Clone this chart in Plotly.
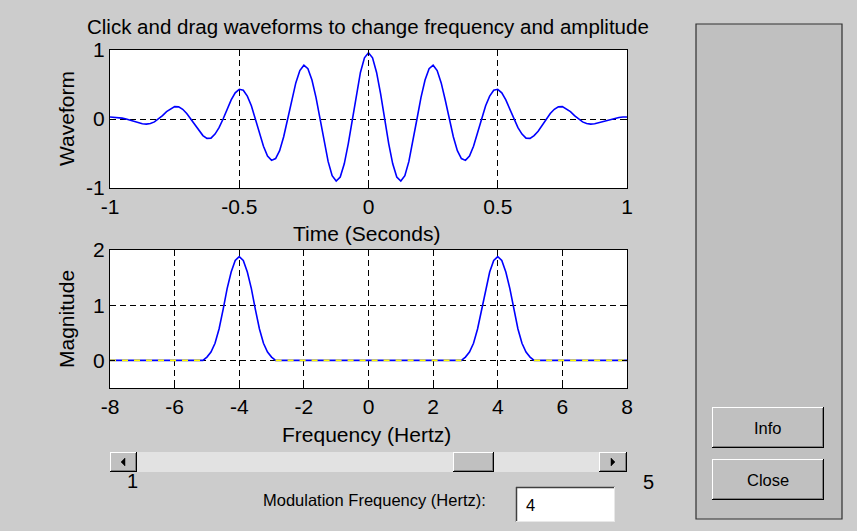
import numpy as np
import plotly.graph_objects as go

# ---------------- data ----------------
time_s = list(np.linspace(-1.0, 1.0, 129))
waveform = [
    0.03, 0.028, 0.021, 0.013, 0, -0.017, -0.035, -0.055,
    -0.07, -0.074, -0.064, -0.042, 0, 0.050, 0.106, 0.148,
    0.18, 0.176, 0.141, 0.080, 0, -0.088, -0.177, -0.240,
    -0.28, -0.277, -0.219, -0.126, 0, 0.142, 0.276, 0.379,
    0.43, 0.416, 0.332, 0.192, 0, -0.207, -0.396, -0.536,
    -0.60, -0.573, -0.460, -0.257, 0, 0.276, 0.523, 0.702,
    0.78, 0.730, 0.566, 0.314, 0, -0.329, -0.615, -0.822,
    -0.90, -0.841, -0.650, -0.356, 0, 0.364, 0.675, 0.887,
    0.96,
    0.887, 0.675, 0.364, 0, -0.356, -0.650, -0.841, -0.90,
    -0.822, -0.615, -0.329, 0, 0.314, 0.566, 0.730, 0.78,
    0.702, 0.523, 0.276, 0, -0.257, -0.460, -0.573, -0.60,
    -0.536, -0.396, -0.207, 0, 0.192, 0.332, 0.416, 0.43,
    0.379, 0.276, 0.142, 0, -0.126, -0.219, -0.277, -0.28,
    -0.240, -0.177, -0.088, 0, 0.080, 0.141, 0.176, 0.18,
    0.148, 0.106, 0.050, 0, -0.042, -0.064, -0.074, -0.07,
    -0.055, -0.035, -0.017, 0, 0.013, 0.021, 0.028, 0.03,
]
freq_hz = [
    -8.0, -5.125, -5.0, -4.875, -4.75, -4.625, -4.5, -4.375, -4.25, -4.125,
    -4.0, -3.875, -3.75, -3.625, -3.5, -3.375, -3.25, -3.125, -3.0, -2.875,
    2.875, 3.0, 3.125, 3.25, 3.375, 3.5, 3.625, 3.75, 3.875,
    4.0, 4.125, 4.25, 4.375, 4.5, 4.625, 4.75, 4.875, 5.0, 5.125, 8.0,
]
magnitude = [
    0, 0, 0.06, 0.15, 0.31, 0.57, 0.92, 1.30, 1.60, 1.81,
    1.88, 1.81, 1.60, 1.30, 0.92, 0.57, 0.31, 0.15, 0.06, 0,
    0, 0.06, 0.15, 0.31, 0.57, 0.92, 1.30, 1.60, 1.81,
    1.88, 1.81, 1.60, 1.30, 0.92, 0.57, 0.31, 0.15, 0.06, 0, 0,
]
time_ticks = [-1, -0.5, 0, 0.5, 1]
time_ticklabels = ["-1", "-0.5", "0", "0.5", "1"]
wave_ticks = [-1, 0, 1]
wave_ticklabels = ["-1", "0", "1"]
freq_ticks = [-8, -6, -4, -2, 0, 2, 4, 6, 8]
freq_ticklabels = ["-8", "-6", "-4", "-2", "0", "2", "4", "6", "8"]
mag_ticks = [0, 1, 2]
mod_freq_value = "4"
slider_min_label = "1"
slider_max_label = "5"

# ---------------- layout helpers ----------------
W, H = 857, 531
BG = "#cccccc"
FACE = "#c0c0c0"
FONT = "Liberation Sans, Arial, sans-serif"


def X(px):
    return px / W


def Y(py):
    return 1 - py / H


shapes = []


def rect(x0, y0, x1, y1, fill, line=None, lw=0):
    shapes.append(dict(type="rect", xref="paper", yref="paper",
                       x0=X(x0), x1=X(x1), y0=Y(y1), y1=Y(y0),
                       fillcolor=fill, line=dict(color=line or fill, width=lw),
                       layer="below"))


def seg(x0, y0, x1, y1, color, lw=1):
    shapes.append(dict(type="line", xref="paper", yref="paper",
                       x0=X(x0), x1=X(x1), y0=Y(y0), y1=Y(y1),
                       line=dict(color=color, width=lw), layer="above"))


def button(x0, y0, x1, y1):
    rect(x0, y0, x1, y1, FACE)
    seg(x0, y0 + 0.5, x1, y0 + 0.5, "#ffffff")
    seg(x0 + 0.5, y0, x0 + 0.5, y1, "#ffffff")
    seg(x0, y1 - 0.5, x1, y1 - 0.5, "#000000")
    seg(x1 - 0.5, y0, x1 - 0.5, y1, "#000000")
    seg(x0 + 1, y1 - 1.5, x1 - 1, y1 - 1.5, "#808080")
    seg(x1 - 1.5, y0 + 1, x1 - 1.5, y1 - 1, "#808080")


def tri(points):
    path = "M " + " L ".join(f"{X(a)},{Y(b)}" for a, b in points) + " Z"
    shapes.append(dict(type="path", xref="paper", yref="paper", path=path,
                       fillcolor="#000000", line=dict(color="#000000", width=0.5),
                       layer="above"))


# right panel
rect(696, 24, 842, 519, FACE, "#303030", 1.2)
button(712, 407, 824, 448)
button(712, 459, 824, 500)

# slider
rect(110, 452, 627, 472, "#e2e2e2")
button(110, 452, 137, 472)
button(599, 452, 627, 472)
button(453, 452, 494, 472)
tri([(121, 462), (125, 458), (125, 466)])
tri([(615, 462), (611, 458), (611, 466)])

# edit box
rect(516, 487, 615, 522, "#ffffff")
seg(516, 487.5, 615, 487.5, "#404040", 1.5)
seg(516.5, 487, 516.5, 522, "#404040", 1.5)
seg(516, 521.5, 615, 521.5, "#e8e8e8", 1)
seg(614.5, 487, 614.5, 522, "#e8e8e8", 1)

# ---------------- figure ----------------
fig = go.Figure()

zero_mag = [m if m == 0 else None for m in magnitude]

fig.add_trace(go.Scatter(x=time_s, y=waveform, mode="lines",
                         line=dict(color="#0000ff", width=1.6),
                         xaxis="x", yaxis="y", hoverinfo="skip"))
fig.add_trace(go.Scatter(x=freq_hz, y=magnitude, mode="lines",
                         line=dict(color="#0000ff", width=1.6),
                         xaxis="x2", yaxis="y2", hoverinfo="skip"))
fig.add_trace(go.Scatter(x=freq_hz, y=zero_mag, mode="lines",
                         line=dict(color="#ffff00", width=1.8, dash="6px,6px"),
                         connectgaps=False,
                         xaxis="x2", yaxis="y2", hoverinfo="skip"))

axis_common = dict(
    showgrid=True, gridcolor="#000000", gridwidth=1.4, griddash="6px,4px",
    zeroline=False, showline=True, linecolor="#000000", linewidth=1.4,
    mirror="allticks", ticks="inside", ticklen=5, tickcolor="#000000",
    tickfont=dict(family=FONT, size=21, color="#000000"),
    fixedrange=True, automargin=False,
)

xd = [X(110), X(627)]
fig.update_layout(
    width=W, height=H, autosize=False,
    margin=dict(l=0, r=0, t=0, b=0, pad=0),
    paper_bgcolor=BG, plot_bgcolor="#ffffff",
    showlegend=False,
    xaxis=dict(domain=xd, range=[-1, 1], tickvals=time_ticks,
               ticktext=time_ticklabels, anchor="y", **axis_common),
    yaxis=dict(domain=[Y(188), Y(50)], range=[-1, 1], tickvals=wave_ticks,
               ticktext=wave_ticklabels, anchor="x", **axis_common),
    xaxis2=dict(domain=xd, range=[-8, 8], tickvals=freq_ticks,
                ticktext=freq_ticklabels, anchor="y2", **axis_common),
    yaxis2=dict(domain=[Y(388), Y(250)], range=[-0.5, 2], tickvals=mag_ticks,
                anchor="x2", **axis_common),
    shapes=shapes,
)


def label(text, x, y, size=21, angle=0, xanchor="center"):
    fig.add_annotation(text=text, x=X(x), y=Y(y), xref="paper", yref="paper",
                       showarrow=False, textangle=angle, xanchor=xanchor,
                       yanchor="middle",
                       font=dict(family=FONT, size=size, color="#000000"))


label("Click and drag waveforms to change frequency and amplitude", 368, 27, 20.5)
label("Time (Seconds)", 366, 233)
label("Waveform", 66, 119, angle=-90)
label("Frequency (Hertz)", 366, 434)
label("Magnitude", 66, 319, angle=-90)
label(slider_min_label, 132, 481, 20)
label(slider_max_label, 648, 482, 20)
label("Modulation Frequency (Hertz):", 374, 500, 16.5)
label(mod_freq_value, 524, 505, 16.5, xanchor="left")
label("Info", 768, 428, 16.5)
label("Close", 768, 480, 16.5)

fig.write_html(
    "out.html",
    config={"displayModeBar": False, "staticPlot": False},
    post_script="document.body.style.margin='0px';document.body.style.overflow='hidden';",
)
